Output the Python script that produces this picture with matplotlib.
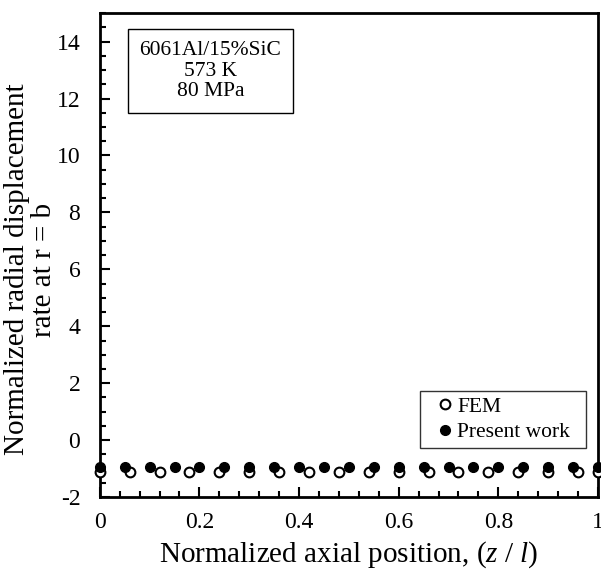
import numpy as np
import matplotlib
matplotlib.use("Agg")
import matplotlib.pyplot as plt
from matplotlib.ticker import MultipleLocator

plt.rcParams['font.family'] = 'Liberation Serif'
plt.rcParams['mathtext.fontset'] = 'custom'
plt.rcParams['mathtext.rm'] = 'Liberation Serif'
plt.rcParams['mathtext.it'] = 'Liberation Serif:italic'

# FEM results (open circles)
fem_z = [0, 0.06, 0.12, 0.18, 0.24, 0.30, 0.36, 0.42, 0.48, 0.54, 0.60,
         0.66, 0.72, 0.78, 0.84, 0.90, 0.96, 1.0]
fem_u = [-1.13] * len(fem_z)

# present work (filled circles)
pw_z = [0, 0.05, 0.10, 0.15, 0.20, 0.25, 0.30, 0.35, 0.40, 0.45, 0.50,
        0.55, 0.60, 0.65, 0.70, 0.75, 0.80, 0.85, 0.90, 0.95, 1.0]
pw_u = [-0.95] * len(pw_z)

xticks = [0, 0.2, 0.4, 0.6, 0.8, 1.0]
xticklabels = ['0', '0.2', '0.4', '0.6', '0.8', '1']
yticks = [-2, 0, 2, 4, 6, 8, 10, 12, 14]
yticklabels = ['-2', '0', '2', '4', '6', '8', '10', '12', '14']

fig = plt.figure(figsize=(6.01, 5.72), dpi=100)
ax = fig.add_axes([0.166, 0.131, 0.829, 0.846])

ax.plot(fem_z, fem_u, 'o', mfc='white', mec='black', mew=1.5, ms=7,
        linestyle='none', label='FEM', clip_on=False, zorder=3)
ax.plot(pw_z, pw_u, 'o', color='black', ms=7,
        linestyle='none', label='Present work  ', clip_on=False, zorder=4)

ax.set_xlim(0, 1)
ax.set_ylim(-2, 15)
ax.set_xticks(xticks)
ax.set_xticklabels(xticklabels)
ax.set_yticks(yticks)
ax.set_yticklabels(yticklabels)
ax.xaxis.set_minor_locator(MultipleLocator(0.04))
ax.yaxis.set_minor_locator(MultipleLocator(0.5))
ax.tick_params(which='both', direction='in', top=False, right=False,
               labelsize=17, width=1.5)
ax.tick_params(which='major', length=7)
ax.tick_params(which='minor', length=4)
ax.tick_params(axis='x', pad=11)
ax.tick_params(axis='y', pad=14)
for s in ax.spines.values():
    s.set_linewidth(2)

ax.set_xlabel('Normalized axial position, ($z$ / $l$)', fontsize=21, labelpad=4)
ax.set_ylabel('Normalized radial displacement\nrate at r = b', fontsize=21,
              linespacing=1.05)
ax.yaxis.set_label_coords(-0.086, 0.47)

ax.text(0.222, 0.942, '6061Al/15%SiC\n573 K\n80 MPa', transform=ax.transAxes,
        ha='center', va='top', fontsize=15.5, linespacing=1.1,
        bbox=dict(boxstyle='square,pad=0.55', fc='white', ec='black', lw=1.0))

leg = ax.legend(loc='lower right', bbox_to_anchor=(0.976, 0.102), fontsize=15.5,
                frameon=True, fancybox=False, edgecolor='black',
                handlelength=1.8, handletextpad=-0.35, borderpad=0.25,
                borderaxespad=0, labelspacing=0.25)
leg.get_frame().set_linewidth(1.0)

fig.savefig('out.png', dpi=100)
